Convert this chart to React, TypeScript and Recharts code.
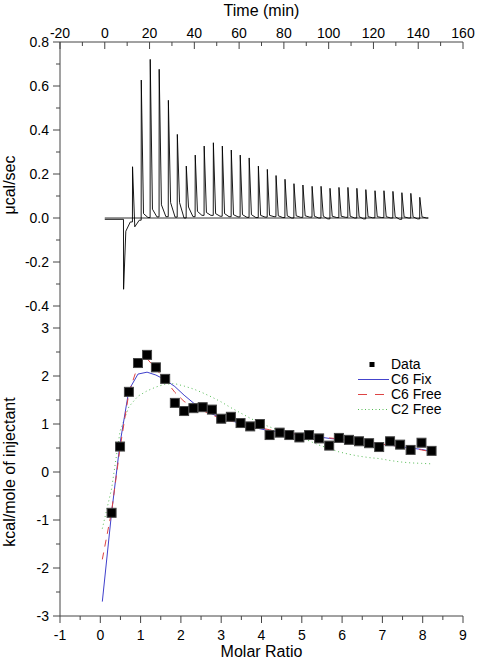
import {
  ComposedChart,
  Legend,
  Line,
  LineChart,
  Scatter,
  XAxis,
  YAxis,
} from "recharts";

// raw thermogram: one entry per injection
const INJECTION_MIN = [
  8.4, 12.4, 16.3, 20.3, 24.3, 28.4, 32.4, 36.4, 40.4, 44.4, 48.5, 52.5, 56.5,
  60.5, 64.5, 68.6, 72.6, 76.5, 80.5, 84.5, 88.5, 92.6, 96.6, 100.6, 104.6,
  108.6, 112.6, 116.6, 120.7, 124.7, 128.7, 132.7, 136.7, 140.7,
];
const PEAK_UCAL = [
  -0.324, 0.233, 0.627, 0.721, 0.676, 0.535, 0.38, 0.236, 0.286, 0.327, 0.342,
  0.327, 0.309, 0.286, 0.273, 0.236, 0.221, 0.193, 0.176, 0.156, 0.15, 0.144,
  0.144, 0.135, 0.139, 0.139, 0.135, 0.129, 0.124, 0.124, 0.121, 0.115, 0.112,
  0.094,
];
const TAIL_UCAL = [
  -0.06, -0.04, 0.02, 0.04, 0.06, 0.07, 0.07, 0.05, 0.03, 0.025, 0.02, 0.02,
  0.015, 0.015, 0.015, 0.012, 0.012, 0.01, 0.01, 0.01, 0.01, 0.008, 0.008,
  0.008, 0.008, 0.008, 0.006, 0.006, 0.006, 0.006, 0.006, 0.005, 0.005, 0.005,
];
const SETTLE_UCAL = [
  -0.018, -0.01, 0.002, 0.005, 0.006, 0.004, 0.0, 0.006, 0.012, 0.012, 0.008,
  0.006, 0.005, 0.003, 0.002, 0.004, 0.006, 0.002, 0.0, 0.003, 0.004, 0.0,
  -0.004, 0.002, 0.003, 0.0, -0.004, 0.001, 0.002, 0.0, -0.006, 0.0, -0.004,
  0.0,
];
const TRACE_START = -0.006;
const TRACE_END_MIN = 144.5;

// integrated heats
const RATIO = [
  0.28, 0.49, 0.71, 0.935, 1.16, 1.38, 1.61, 1.85, 2.08, 2.31, 2.54, 2.77, 3.0,
  3.24, 3.48, 3.72, 3.96, 4.2, 4.45, 4.69, 4.94, 5.18, 5.43, 5.68, 5.92, 6.17,
  6.42, 6.67, 6.92, 7.19, 7.44, 7.7, 7.97, 8.22,
];
const HEAT = [
  -0.85, 0.53, 1.67, 2.27, 2.44, 2.18, 1.94, 1.44, 1.27, 1.33, 1.35, 1.3, 1.11,
  1.15, 1.02, 0.95, 1.0, 0.77, 0.82, 0.77, 0.72, 0.77, 0.7, 0.55, 0.71, 0.67,
  0.64, 0.6, 0.52, 0.64, 0.57, 0.46, 0.61, 0.44,
];
const FIT_RATIO = [0.05, ...RATIO];
const C6_FIX = [
  -2.7, -0.85, 0.6, 1.71, 2.04, 2.08, 2.02, 1.92, 1.78, 1.6, 1.44, 1.31, 1.21,
  1.13, 1.07, 1.01, 0.95, 0.9, 0.86, 0.83, 0.8, 0.78, 0.75, 0.73, 0.7, 0.68,
  0.66, 0.64, 0.61, 0.58, 0.56, 0.53, 0.5, 0.47, 0.43,
];
const C6_FREE = [
  -1.82, -0.82, 0.5, 1.65, 2.22, 2.36, 2.15, 1.92, 1.66, 1.47, 1.36, 1.28,
  1.19, 1.11, 1.06, 1.01, 0.96, 0.92, 0.88, 0.84, 0.81, 0.78, 0.76, 0.73, 0.71,
  0.69, 0.67, 0.64, 0.62, 0.59, 0.56, 0.53, 0.5, 0.46, 0.42,
];
const C2_FREE = [
  -1.18, -0.35, 0.85, 1.36, 1.58, 1.69, 1.77, 1.83, 1.84, 1.79, 1.73, 1.65,
  1.56, 1.46, 1.34, 1.23, 1.12, 1.02, 0.94, 0.86, 0.79, 0.72, 0.65, 0.56, 0.49,
  0.42, 0.37, 0.33, 0.3, 0.28, 0.24, 0.21, 0.19, 0.18, 0.17,
];

// ticks
const TIME_TICKS = [
  -20, -10, 0, 10, 20, 30, 40, 50, 60, 70, 80, 90, 100, 110, 120, 130, 140,
  150, 160,
];
const TIME_LABELS = [-20, 0, 20, 40, 60, 80, 100, 120, 140, 160];
const UCAL_TICKS = [-0.4, -0.3, -0.2, -0.1, 0, 0.1, 0.2, 0.3, 0.4, 0.5, 0.6, 0.7, 0.8];
const UCAL_LABELS = [-0.4, -0.2, 0, 0.2, 0.4, 0.6, 0.8];
const RATIO_TICKS = [
  -1, -0.5, 0, 0.5, 1, 1.5, 2, 2.5, 3, 3.5, 4, 4.5, 5, 5.5, 6, 6.5, 7, 7.5, 8,
  8.5, 9,
];
const RATIO_LABELS = [-1, 0, 1, 2, 3, 4, 5, 6, 7, 8, 9];
const HEAT_TICKS = [-3, -2.5, -2, -1.5, -1, -0.5, 0, 0.5, 1, 1.5, 2, 2.5, 3];
const HEAT_LABELS = [-3, -2, -1, 0, 1, 2, 3];

const FONT = "'Liberation Sans', Arial, Helvetica, sans-serif";
const AXIS = "#444";

const trace: { t: number; v: number }[] = [{ t: 0, v: TRACE_START }];
INJECTION_MIN.forEach((t, i) => {
  const before = i === 0 ? TRACE_START : SETTLE_UCAL[i - 1];
  trace.push(
    { t: t - 0.05, v: before },
    { t, v: PEAK_UCAL[i] },
    { t: t + 1, v: TAIL_UCAL[i] },
    { t: t + 3, v: SETTLE_UCAL[i] },
  );
});
trace.push({ t: TRACE_END_MIN, v: 0 });
const baseline = [
  { t: 0, v: 0 },
  { t: TRACE_END_MIN, v: 0 },
];

const heatPoints = RATIO.map((r, i) => ({ r, v: HEAT[i] }));
const fixLine = FIT_RATIO.map((r, i) => ({ r, v: C6_FIX[i] }));
const freeLine = FIT_RATIO.map((r, i) => ({ r, v: C6_FREE[i] }));
const c2Line = FIT_RATIO.map((r, i) => ({ r, v: C2_FREE[i] }));

type Side = "left" | "right" | "top" | "topPlain" | "bottom";

function AxisTick(props: any) {
  const { x, y, payload, side, labels, fmt } = props;
  const v = payload.value as number;
  const major = (labels as number[]).some((l) => Math.abs(l - v) < 1e-9);
  const len = major ? 7 : 4;
  const s = side as Side;
  const text = major && fmt ? fmt(v) : null;
  let line: number[];
  let label = null;
  if (s === "left") {
    line = [x - len, y, x, y];
    if (text)
      label = (
        <text x={x - 11} y={y} dy="0.36em" textAnchor="end">
          {text}
        </text>
      );
  } else if (s === "right") {
    line = [x - len, y, x, y];
  } else if (s === "top" || s === "topPlain") {
    line = [x, y, x, y + len];
    if (text && s === "top")
      label = (
        <text x={x} y={y - 4} textAnchor="middle">
          {text}
        </text>
      );
  } else {
    line = [x, y, x, y + len];
    if (text)
      label = (
        <text x={x} y={y + 24} textAnchor="middle">
          {text}
        </text>
      );
  }
  return (
    <g fontFamily={FONT} fontSize={14} fill="#000">
      <line x1={line[0]} y1={line[1]} x2={line[2]} y2={line[3]} stroke={AXIS} strokeWidth={1} />
      {label}
    </g>
  );
}

const axisCommon = {
  type: "number" as const,
  tickLine: false,
  tickSize: 0,
  tickMargin: 0,
  interval: 0 as const,
  axisLine: { stroke: AXIS },
};

function SquareDot(props: any) {
  const { cx, cy } = props;
  return <rect x={cx - 4.5} y={cy - 4.5} width={9} height={9} fill="#000" stroke="#444" />;
}

const LEGEND_ROWS = [
  { label: "Data", kind: "square" },
  { label: "C6 Fix", kind: "fix" },
  { label: "C6 Free", kind: "free" },
  { label: "C2 Free", kind: "c2" },
];

function FitLegend() {
  return (
    <div style={{ fontFamily: FONT, fontSize: 14, color: "#000" }}>
      {LEGEND_ROWS.map((row) => (
        <div key={row.label} style={{ display: "flex", alignItems: "center", height: 15 }}>
          <svg width={35} height={15}>
            {row.kind === "square" && <rect x={13.5} y={5} width={5} height={5} fill="#000" />}
            {row.kind === "fix" && <line x1={2} y1={7.5} x2={33} y2={7.5} stroke="#4444cc" />}
            {row.kind === "free" && (
              <line x1={2} y1={7.5} x2={33} y2={7.5} stroke="#dd4444" strokeDasharray="9 8" />
            )}
            {row.kind === "c2" && (
              <line x1={2} y1={7.5} x2={33} y2={7.5} stroke="#55bb55" strokeDasharray="1 2.5" />
            )}
          </svg>
          <span style={{ lineHeight: "15px" }}>{row.label}</span>
        </div>
      ))}
    </div>
  );
}

function TopTitle() {
  return (
    <text x={261.5} y={16} textAnchor="middle" fontFamily={FONT} fontSize={16} fill="#000">
      Time (min)
    </text>
  );
}

function BottomTitle() {
  return (
    <text x={261.5} y={337} textAnchor="middle" fontFamily={FONT} fontSize={16} fill="#000">
      Molar Ratio
    </text>
  );
}

function SideTitle({ text, cy }: { text: string; cy: number }) {
  return (
    <text
      x={15}
      y={cy}
      transform={`rotate(-90, 15, ${cy})`}
      textAnchor="middle"
      fontFamily={FONT}
      fontSize={16}
      fill="#000"
    >
      {text}
    </text>
  );
}

export default function App() {
  return (
    <div style={{ position: "absolute", left: 0, top: 0, width: 478, height: 662, background: "#fff" }}>
      <div style={{ position: "absolute", left: 0, top: 0 }}>
        <LineChart width={478} height={330} margin={{ top: 12, right: 15, bottom: 2, left: 10 }}>
          <XAxis
            {...axisCommon}
            dataKey="t"
            orientation="top"
            height={30}
            domain={[-20, 160]}
            ticks={TIME_TICKS}
            tick={<AxisTick side="top" labels={TIME_LABELS} fmt={(v: number) => String(v)} />}
            label={<TopTitle />}
          />
          <YAxis
            {...axisCommon}
            dataKey="v"
            width={50}
            domain={[-0.5, 0.8]}
            ticks={UCAL_TICKS}
            tick={<AxisTick side="left" labels={UCAL_LABELS} fmt={(v: number) => v.toFixed(1)} />}
            label={<SideTitle text="μcal/sec" cy={185} />}
          />
          <YAxis
            {...axisCommon}
            yAxisId="r"
            orientation="right"
            width={0}
            domain={[-0.5, 0.8]}
            ticks={UCAL_TICKS}
            tick={<AxisTick side="right" labels={UCAL_LABELS} />}
          />
          <Line
            data={baseline}
            dataKey="v"
            stroke="#000"
            strokeWidth={0.8}
            dot={false}
            isAnimationActive={false}
          />
          <Line
            data={trace}
            dataKey="v"
            stroke="#000"
            strokeWidth={0.9}
            dot={false}
            isAnimationActive={false}
          />
        </LineChart>
      </div>
      <div style={{ position: "absolute", left: 0, top: 320 }}>
        <ComposedChart width={478} height={342} margin={{ top: 8, right: 15, bottom: 0, left: 10 }}>
          <XAxis
            {...axisCommon}
            dataKey="r"
            height={46}
            domain={[-1, 9]}
            ticks={RATIO_TICKS}
            tick={<AxisTick side="bottom" labels={RATIO_LABELS} fmt={(v: number) => String(v)} />}
            label={<BottomTitle />}
          />
          <XAxis
            {...axisCommon}
            xAxisId="top"
            orientation="top"
            height={0}
            domain={[-1, 9]}
            ticks={RATIO_TICKS}
            tick={<AxisTick side="topPlain" labels={RATIO_LABELS} />}
          />
          <YAxis
            {...axisCommon}
            dataKey="v"
            width={50}
            domain={[-3, 3]}
            ticks={HEAT_TICKS}
            tick={<AxisTick side="left" labels={HEAT_LABELS} fmt={(v: number) => String(v)} />}
            label={<SideTitle text="kcal/mole of injectant" cy={152} />}
          />
          <YAxis
            {...axisCommon}
            yAxisId="r"
            orientation="right"
            width={0}
            domain={[-3, 3]}
            ticks={HEAT_TICKS}
            tick={<AxisTick side="right" labels={HEAT_LABELS} />}
          />
          <Line
            data={c2Line}
            dataKey="v"
            stroke="#55bb55"
            strokeWidth={1}
            strokeDasharray="1 3"
            dot={false}
            isAnimationActive={false}
          />
          <Line
            data={fixLine}
            dataKey="v"
            stroke="#4040cc"
            strokeWidth={1}
            dot={false}
            isAnimationActive={false}
          />
          <Line
            data={freeLine}
            dataKey="v"
            stroke="#dd4444"
            strokeWidth={1}
            strokeDasharray="7 6"
            dot={false}
            isAnimationActive={false}
          />
          <Scatter data={heatPoints} dataKey="v" shape={<SquareDot />} isAnimationActive={false} />
          <Legend
            layout="horizontal"
            verticalAlign="middle"
            align="center"
            wrapperStyle={{ left: 356, top: 36.5, width: 110 }}
            content={<FitLegend />}
          />
        </ComposedChart>
      </div>
    </div>
  );
}
